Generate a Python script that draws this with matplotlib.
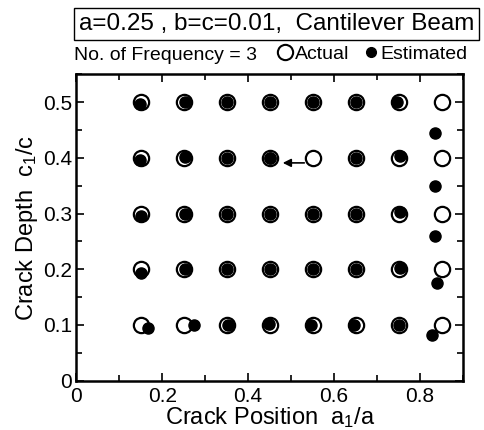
import numpy as np
import matplotlib.pyplot as plt
from matplotlib.ticker import MultipleLocator

plt.rcParams['font.family'] = ['Liberation Sans', 'DejaVu Sans']
plt.rcParams['mathtext.default'] = 'regular'

# actual crack positions / depths (grid)
pos = [0.15, 0.25, 0.35, 0.45, 0.55, 0.65, 0.75, 0.85]
depth = [0.1, 0.2, 0.3, 0.4, 0.5]

# estimated points, row by row (depth 0.1 .. 0.5)
est_x = [
    [0.167, 0.274, 0.353, 0.448, 0.547, 0.647, 0.750, 0.828],
    [0.150, 0.253, 0.350, 0.450, 0.550, 0.650, 0.753, 0.839],
    [0.150, 0.253, 0.350, 0.450, 0.550, 0.650, 0.752, 0.834],
    [0.148, 0.253, 0.350, 0.450, 0.450, 0.650, 0.752, 0.834],
    [0.148, 0.253, 0.350, 0.450, 0.550, 0.650, 0.747, 0.834],
]
est_y = [
    [0.094, 0.100, 0.100, 0.102, 0.100, 0.100, 0.100, 0.082],
    [0.193, 0.201, 0.200, 0.200, 0.200, 0.200, 0.202, 0.176],
    [0.296, 0.300, 0.300, 0.300, 0.300, 0.300, 0.303, 0.259],
    [0.397, 0.401, 0.400, 0.400, 0.400, 0.400, 0.403, 0.350],
    [0.497, 0.500, 0.500, 0.500, 0.500, 0.500, 0.500, 0.444],
]

ax_x, ay_x = np.meshgrid(pos, depth)

fig = plt.figure(figsize=(4.85, 4.3), dpi=100)
ax = fig.add_axes([0.157, 0.115, 0.798, 0.712])

ax.plot(ax_x.ravel(), ay_x.ravel(), 'o', ms=11, mfc='white', mec='black', mew=1.6, ls='none')
ax.plot(np.ravel(est_x), np.ravel(est_y), 'o', ms=8, mfc='black', mec='black', ls='none')

ax.annotate('', xy=(0.474, 0.391), xytext=(0.537, 0.391),
            arrowprops=dict(arrowstyle='-|>', color='black', lw=1.2, mutation_scale=12))

ax.set_xlim(0, 0.9)
ax.set_ylim(0, 0.55)
ax.xaxis.set_minor_locator(MultipleLocator(0.1))
ax.yaxis.set_minor_locator(MultipleLocator(0.05))
ax.set_xticks([0, 0.2, 0.4, 0.6, 0.8])
ax.set_xticklabels(['0', '0.2', '0.4', '0.6', '0.8'])
ax.set_yticks([0, 0.1, 0.2, 0.3, 0.4, 0.5])
ax.set_yticklabels(['0', '0.1', '0.2', '0.3', '0.4', '0.5'])
ax.tick_params(which='both', direction='in', top=True, right=True, labelsize=15, width=1.2)
ax.tick_params(which='major', length=6)
ax.tick_params(which='minor', length=4)
ax.tick_params(axis='x', pad=5)
ax.tick_params(axis='y', pad=3)
for s in ax.spines.values():
    s.set_linewidth(1.8)

ax.set_xlabel('Crack Position  a$_1$/a', fontsize=17, labelpad=-1)
ax.set_ylabel('Crack Depth  c$_1$/c', fontsize=17, labelpad=2)

fig.text(0.162, 0.945, 'a=0.25 , b=c=0.01,  Cantilever Beam', fontsize=17.5, va='center',
         bbox=dict(boxstyle='square,pad=0.2', fc='white', ec='black', lw=1))
fig.text(0.152, 0.872, 'No. of Frequency = 3', fontsize=14, va='center')
fig.legend(handles=[
    plt.Line2D([], [], marker='o', ls='none', ms=11, mfc='white', mec='black', mew=1.5, label='Actual'),
    plt.Line2D([], [], marker='o', ls='none', ms=7, mfc='black', mec='black', label='Estimated')],
    ncol=2, loc='center right', bbox_to_anchor=(0.98, 0.874), frameon=False,
    fontsize=14, handletextpad=0.0, columnspacing=0.6, handlelength=1.0, borderaxespad=0)

fig.savefig('out.png', dpi=100)
